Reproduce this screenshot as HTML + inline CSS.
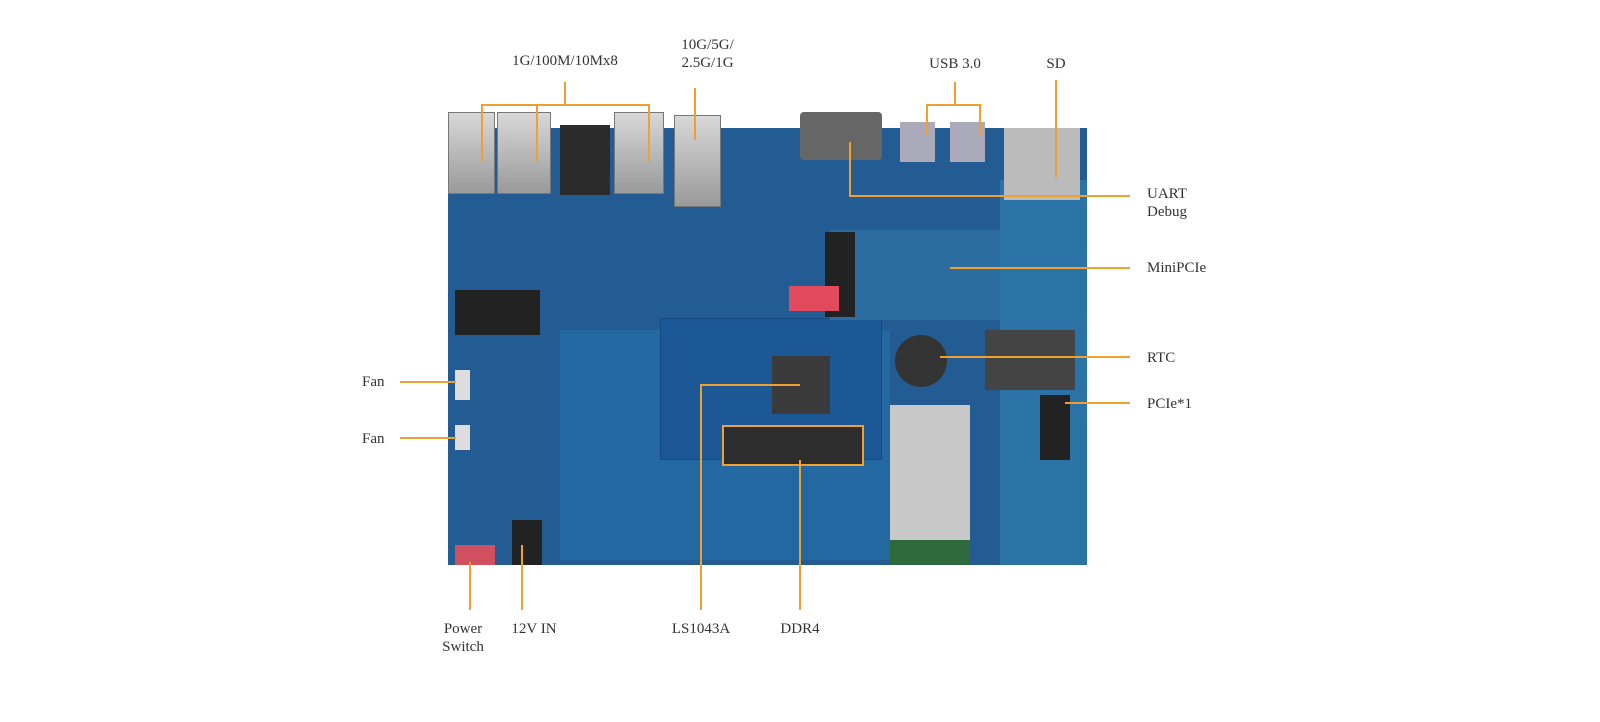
<!DOCTYPE html>
<html><head><meta charset="utf-8"><style>
body{margin:0;width:1600px;height:722px;background:#fff;position:relative;overflow:hidden;font-family:"Liberation Serif",serif;}
.a{position:absolute}
.t{position:absolute;font-size:15px;color:#333;text-align:center;line-height:18px;white-space:nowrap}
.o{position:absolute;background:#f0a030}
.rj{position:absolute;background:linear-gradient(#d8d8d8,#9a9a9a);border:1px solid #777}
.chip{position:absolute;background:#222}
</style></head><body>
<!-- board -->
<div class="a" style="left:448px;top:128px;width:639px;height:437px;background:#225c93"></div>
<div class="a" style="left:560px;top:330px;width:330px;height:230px;background:#2468a2"></div>
<div class="a" style="left:1000px;top:180px;width:87px;height:385px;background:#2b73a6"></div>
<div class="a" style="left:890px;top:460px;width:80px;height:105px;background:#3a7f8c"></div>
<!-- module -->
<div class="a" style="left:660px;top:318px;width:220px;height:140px;background:#1c5796;border:1px solid #174a7e"></div>
<div class="chip" style="left:772px;top:356px;width:58px;height:58px;background:#3a3a3a"></div>
<div class="a" style="left:722px;top:425px;width:138px;height:37px;border:2px solid #f0a030;background:#2d2d2d"></div>
<!-- connectors top -->
<div class="rj" style="left:448px;top:112px;width:45px;height:80px"></div>
<div class="rj" style="left:497px;top:112px;width:52px;height:80px"></div>
<div class="a" style="left:560px;top:125px;width:50px;height:70px;background:#2b2b2b"></div>
<div class="rj" style="left:614px;top:112px;width:48px;height:80px"></div>
<div class="rj" style="left:674px;top:115px;width:45px;height:90px"></div>
<div class="a" style="left:800px;top:112px;width:82px;height:48px;background:#666;border-radius:4px"></div>
<div class="a" style="left:900px;top:122px;width:35px;height:40px;background:#aab"></div>
<div class="a" style="left:950px;top:122px;width:35px;height:40px;background:#aab"></div>
<div class="a" style="left:1004px;top:128px;width:76px;height:72px;background:#bbb"></div>
<!-- minipcie area -->
<div class="a" style="left:830px;top:230px;width:170px;height:90px;background:#2c6da0"></div>
<div class="a" style="left:825px;top:232px;width:30px;height:85px;background:#222"></div>
<div class="a" style="left:789px;top:286px;width:50px;height:25px;background:#e24a5e"></div>
<div class="a" style="left:895px;top:335px;width:52px;height:52px;border-radius:50%;background:#333"></div>
<div class="a" style="left:1040px;top:395px;width:30px;height:65px;background:#222"></div>
<div class="a" style="left:890px;top:405px;width:80px;height:160px;background:#c8c8c8"></div>
<div class="a" style="left:890px;top:540px;width:80px;height:25px;background:#2f6a3d"></div>
<div class="a" style="left:985px;top:330px;width:90px;height:60px;background:#444"></div>
<div class="a" style="left:455px;top:290px;width:85px;height:45px;background:#222"></div>
<div class="a" style="left:455px;top:370px;width:15px;height:30px;background:#ddd"></div>
<div class="a" style="left:455px;top:425px;width:15px;height:25px;background:#ddd"></div>
<div class="a" style="left:512px;top:520px;width:30px;height:45px;background:#222"></div>
<div class="a" style="left:455px;top:545px;width:40px;height:20px;background:#d05060"></div>
<!-- orange lines -->
<div class="o" style="left:564px;top:82px;width:2px;height:23px"></div>
<div class="o" style="left:482px;top:104px;width:168px;height:2px"></div>
<div class="o" style="left:481px;top:104px;width:2px;height:58px"></div>
<div class="o" style="left:536px;top:104px;width:2px;height:58px"></div>
<div class="o" style="left:648px;top:104px;width:2px;height:58px"></div>
<div class="o" style="left:694px;top:88px;width:2px;height:52px"></div>
<div class="o" style="left:954px;top:82px;width:2px;height:23px"></div>
<div class="o" style="left:926px;top:104px;width:55px;height:2px"></div>
<div class="o" style="left:926px;top:104px;width:2px;height:32px"></div>
<div class="o" style="left:979px;top:104px;width:2px;height:32px"></div>
<div class="o" style="left:1055px;top:80px;width:2px;height:98px"></div>
<div class="o" style="left:849px;top:142px;width:2px;height:54px"></div>
<div class="o" style="left:849px;top:195px;width:281px;height:2px"></div>
<div class="o" style="left:950px;top:267px;width:180px;height:2px"></div>
<div class="o" style="left:940px;top:356px;width:190px;height:2px"></div>
<div class="o" style="left:1065px;top:402px;width:65px;height:2px"></div>
<div class="o" style="left:400px;top:381px;width:56px;height:2px"></div>
<div class="o" style="left:400px;top:437px;width:56px;height:2px"></div>
<div class="o" style="left:469px;top:562px;width:2px;height:48px"></div>
<div class="o" style="left:521px;top:545px;width:2px;height:65px"></div>
<div class="o" style="left:700px;top:384px;width:2px;height:226px"></div>
<div class="o" style="left:700px;top:384px;width:100px;height:2px"></div>
<div class="o" style="left:799px;top:460px;width:2px;height:150px"></div>
<!-- labels -->
<div class="t" style="left:490px;top:52px;width:150px">1G/100M/10Mx8</div>
<div class="t" style="left:650px;top:36px;width:115px">10G/5G/<br>2.5G/1G</div>
<div class="t" style="left:915px;top:55px;width:80px">USB 3.0</div>
<div class="t" style="left:1036px;top:55px;width:40px">SD</div>
<div class="t" style="left:1147px;top:185px;text-align:left">UART<br>Debug</div>
<div class="t" style="left:1147px;top:259px;text-align:left">MiniPCIe</div>
<div class="t" style="left:1147px;top:349px;text-align:left">RTC</div>
<div class="t" style="left:1147px;top:395px;text-align:left">PCIe*1</div>
<div class="t" style="left:362px;top:373px;text-align:left">Fan</div>
<div class="t" style="left:362px;top:430px;text-align:left">Fan</div>
<div class="t" style="left:425px;top:620px;width:76px">Power<br>Switch</div>
<div class="t" style="left:494px;top:620px;width:80px">12V IN</div>
<div class="t" style="left:651px;top:620px;width:100px">LS1043A</div>
<div class="t" style="left:760px;top:620px;width:80px">DDR4</div>
</body></html>
